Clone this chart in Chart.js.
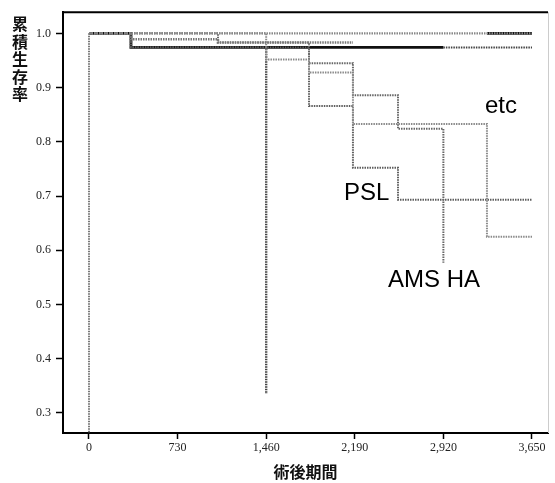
<!DOCTYPE html>
<html><head><meta charset="utf-8">
<script src="https://cdn.jsdelivr.net/npm/chart.js@4/dist/chart.umd.min.js"></script>
<style>html,body{margin:0;padding:0;background:#fff}</style>
</head><body>
<canvas id="c" width="555" height="483" style="display:block;width:555px;height:483px"></canvas>
<script>
// Axis ticks and titles
const xTickValues = [0, 730, 1460, 2190, 2920, 3650];
const xTickLabels = ["0", "730", "1,460", "2,190", "2,920", "3,650"];
const yTickValues = [0.3, 0.4, 0.5, 0.6, 0.7, 0.8, 0.9, 1.0];
const yTickLabels = ["0.3", "0.4", "0.5", "0.6", "0.7", "0.8", "0.9", "1.0"];
const yAxisTitle = "累積生存率";
const xAxisTitle = "術後期間";

// Kaplan-Meier curves (time of event, survival after event)
const etcTimes = [0, 1460, 1813, 2175, 3279, 3650];
const etcSurv  = [1.0, 0.952, 0.928, 0.833, 0.625, 0.625];
const pslTimes = [0, 346, 1813, 2175, 2546, 3650];
const pslSurv  = [1.0, 0.974, 0.866, 0.752, 0.693, 0.693];
const amsTimes = [0, 1063, 1813, 2175, 2546, 2920];
const amsSurv  = [1.0, 0.983, 0.945, 0.886, 0.824, 0.577];
const blackTimes = [0, 346, 2920];
const blackSurv  = [1.0, 0.974, 0.974];
const grayBandTimes = [0, 346, 1063, 2175];
const grayBandSurv  = [1.0, 0.989, 0.983, 0.983];
const topTimes = [0, 3650];
const topSurv  = [1.0, 1.0];
const topBlackTimes = [3279, 3650];
const topBlackSurv  = [1.0, 1.0];
const tailTimes = [2920, 3650];
const tailSurv  = [0.974, 0.974];
const g1460Times = [0, 346, 1460];
const g1460Surv  = [1.0, 0.974, 0.335];
const g0Times = [0, 0];
const g0Surv  = [1.0, 0.2];

const curveLabels = ["etc", "PSL", "AMS HA"];

function pts(t, s) { return t.map((v, i) => ({x: v, y: s[i]})); }
function ds(t, s, color, width, dash) {
  return {data: pts(t, s), showLine: true, stepped: 'before', borderColor: color,
          borderWidth: width, borderDash: dash || [], pointRadius: 0, fill: false};
}

const labelPlugin = {
  id: 'extras',
  afterDraw(chart) {
    const ctx = chart.ctx, a = chart.chartArea, xs = chart.scales.x, ys = chart.scales.y;
    ctx.save();
    // top and right frame
    ctx.strokeStyle = '#000'; ctx.lineWidth = 2;
    ctx.beginPath(); ctx.moveTo(a.left - 1, a.top); ctx.lineTo(a.right, a.top); ctx.stroke();
    ctx.strokeStyle = '#ccc'; ctx.lineWidth = 1;
    ctx.beginPath(); ctx.moveTo(a.right + 0.5, a.top); ctx.lineTo(a.right + 0.5, a.bottom); ctx.stroke();
    // curve labels
    ctx.fillStyle = '#000';
    ctx.font = '24px "Liberation Sans", Arial, sans-serif';
    ctx.textBaseline = 'alphabetic'; ctx.textAlign = 'left';
    const anchors = [[3263, 0.853], [2101, 0.693], [2464, 0.533]];
    curveLabels.forEach((lab, i) => {
      ctx.fillText(lab, xs.getPixelForValue(anchors[i][0]), ys.getPixelForValue(anchors[i][1]));
    });
    // vertical stacked y title
    ctx.font = 'bold 16px "Noto Sans CJK JP", sans-serif';
    ctx.textAlign = 'center'; ctx.textBaseline = 'middle';
    ctx.fillStyle = '#111';
    [...yAxisTitle].forEach((ch, i) => ctx.fillText(ch, 20, 24 + i * 17.5));
    ctx.restore();
  }
};

new Chart(document.getElementById('c'), {
  type: 'scatter',
  data: {
    datasets: [
      ds(g0Times, g0Surv, '#777', 2, [1.5, 1]),
      ds(topTimes, topSurv, '#888', 2.2, [1.5, 1]),
      ds(grayBandTimes, grayBandSurv, '#777', 2.6, [1.5, 1]),
      ds(etcTimes, etcSurv, '#8a8a8a', 2, [1.5, 1]),
      ds(amsTimes, amsSurv, '#666', 2, [1.5, 1]),
      ds(pslTimes, pslSurv, '#5e5e5e', 2, [1.5, 1]),
      ds(g1460Times, g1460Surv, '#444', 2.4, [1.5, 1]),
      ds(tailTimes, tailSurv, '#444', 2, [1.5, 1]),
      ds(blackTimes, blackSurv, '#111', 2.8),
      ds(topBlackTimes, topBlackSurv, '#111', 2.6)
    ]
  },
  options: {
    responsive: false, animation: false,
    layout: {padding: {top: 12, right: 7, left: 0, bottom: 1}},
    plugins: {legend: {display: false}, tooltip: {enabled: false}},
    scales: {
      x: {
        type: 'linear', min: -214, max: 3782,
        afterBuildTicks(s) { s.ticks = xTickValues.map(v => ({value: v})); },
        afterFit(s) { s.height = 49; },
        ticks: {callback: (v) => { const i = xTickValues.indexOf(v); return i >= 0 ? xTickLabels[i] : ''; },
                font: {family: '"Liberation Serif", serif', size: 12}, color: '#222', padding: 2, maxRotation: 0, autoSkip: false},
        grid: {display: true, drawOnChartArea: false, drawTicks: true, tickLength: 6, color: '#000', tickWidth: 1.5},
        border: {display: true, color: '#000', width: 2},
        title: {display: true, text: xAxisTitle, font: {family: '"Noto Sans CJK JP", sans-serif', size: 16, weight: 'bold'}, color: '#111', padding: {top: 4, bottom: 0}}
      },
      y: {
        type: 'linear', min: 0.263, max: 1.039,
        afterBuildTicks(s) { s.ticks = yTickValues.map(v => ({value: v})); },
        afterFit(s) { s.width = 63; },
        ticks: {callback: (v) => { const i = yTickValues.findIndex(t => Math.abs(t - v) < 1e-6); return i >= 0 ? yTickLabels[i] : ''; },
                font: {family: '"Liberation Serif", serif', size: 12}, color: '#222', padding: 5, autoSkip: false},
        grid: {display: true, drawOnChartArea: false, drawTicks: true, tickLength: 7, color: '#000', tickWidth: 1.5},
        border: {display: true, color: '#000', width: 2}
      }
    }
  },
  plugins: [labelPlugin]
});
</script>
</body></html>
